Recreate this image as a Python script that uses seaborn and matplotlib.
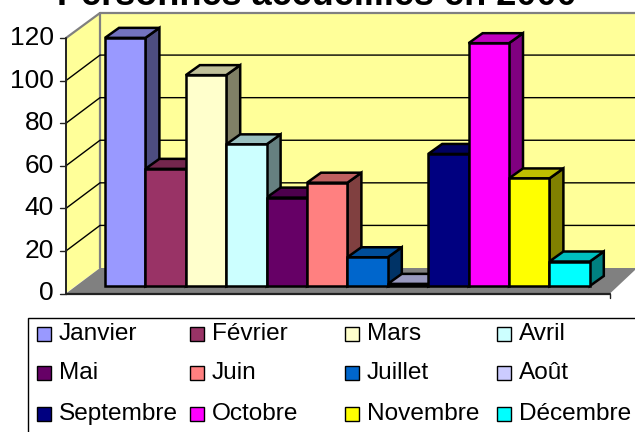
import matplotlib
matplotlib.use("Agg")
import matplotlib.pyplot as plt
from matplotlib.patches import Polygon, Rectangle
from matplotlib.colors import to_rgb
import numpy as np
import pandas as pd
import seaborn as sns

mois = ["Janvier", "Février", "Mars", "Avril", "Mai", "Juin", "Juillet", "Août",
        "Septembre", "Octobre", "Novembre", "Décembre"]
valeurs = [116.5, 55, 99, 66.5, 41.5, 48.5, 13.5, 1, 62, 114, 50.5, 11.5]
couleurs = ["#9999FF", "#993366", "#FFFFCC", "#CCFFFF", "#660066", "#FF8080",
            "#0066CC", "#CCCCFF", "#000080", "#FF00FF", "#FFFF00", "#00FFFF"]
graduations = [0, 20, 40, 60, 80, 100, 120]
titre = "Personnes accueillies en 2000"

W, H = 635, 432
sns.set_theme(style="white")
plt.rcParams["font.family"] = ["Liberation Sans", "DejaVu Sans"]

fig = plt.figure(figsize=(W / 100, H / 100), dpi=100, facecolor="white")

# echelle du plan des barres : 1 categorie = 40.4 px, 1 unite = 2.13 px
px_x, px_y = 40.4, 2.13
x0_px, y0_px = 105 + px_x / 2, 286
ax = fig.add_axes([0, 0, 1, 1])
ax.set_xlim(-x0_px / px_x, (W - x0_px) / px_x)
ax.set_ylim((y0_px - H) / px_y, y0_px / px_y)
ax.set_axis_off()


def px(x, y):
    return ((x - x0_px) / px_x, (y0_px - y) / px_y)


def poly(points, **kw):
    ax.add_patch(Polygon([px(*p) for p in points], closed=True, **kw))


jaune = "#FFFF99"
gris = "#808080"
# murs et sol
poly([(100, 13), (635, 13), (635, 268), (100, 268)], facecolor=jaune, edgecolor="none", zorder=0)
poly([(66, 38), (100, 13), (100, 268), (66, 293)], facecolor=jaune, edgecolor="none", zorder=0)
poly([(66, 293.5), (100, 268), (635, 268), (635, 270), (610, 293.5)], facecolor=gris, edgecolor="none", zorder=0.5)
ax.add_line(plt.Line2D(*zip(px(66, 38), px(100, 13), px(635, 13)), color="#808080", lw=1.6, zorder=1))
ax.add_line(plt.Line2D(*zip(px(100, 13), px(100, 268)), color="#808080", lw=1.6, zorder=1))
ax.add_line(plt.Line2D(*zip(px(66, 293.5), px(610, 293.5)), color="#222222", lw=1.6, zorder=1))
ax.add_line(plt.Line2D(*zip(px(610, 293.5), px(610, 298)), color="#222222", lw=1, zorder=1))
ech_mur = (293.5 - 38) / 120
for g in graduations[1:-1]:
    d = g * ech_mur
    ax.add_line(plt.Line2D(*zip(px(66, 293.5 - d), px(100, 268 - d), px(635, 268 - d)),
                           color="black", lw=1, zorder=1))
# axe vertical et graduations
ax.add_line(plt.Line2D(*zip(px(66, 38), px(66, 293.5)), color="#222222", lw=1.4, zorder=1))
for g in graduations:
    yp = 293.5 - g * ech_mur
    ax.add_line(plt.Line2D(*zip(px(60, yp), px(66, yp)), color="#222222", lw=1, zorder=1))
    ax.text(*px(54, yp), str(g), ha="right", va="center", fontsize=19, color="black")

# faces avant
df = pd.DataFrame({"mois": mois, "valeur": valeurs})
sns.barplot(data=df, x="mois", y="valeur", hue="mois", palette=couleurs, width=1,
            saturation=1, dodge=False, legend=False, edgecolor="black", linewidth=1.8,
            ax=ax, zorder=3)
ax.set_xlim(-x0_px / px_x, (W - x0_px) / px_x)
ax.set_ylim((y0_px - H) / px_y, y0_px / px_y)
ax.set_axis_off()

# faces de cote et dessus (profondeur 14 px, 10 px)
dx, dy = 14 / px_x, 10 / px_y
for i, (v, c) in enumerate(zip(valeurs, couleurs)):
    r = np.array(to_rgb(c))
    g, d = i - 0.5, i + 0.5
    ax.add_patch(Polygon([(d, 0), (d + dx, dy), (d + dx, v + dy), (d, v)], facecolor=r * 0.5,
                         edgecolor="black", lw=1.8, zorder=2))
    ax.add_patch(Polygon([(g, v), (g + dx, v + dy), (d + dx, v + dy), (d, v)], facecolor=r * 0.75,
                         edgecolor="black", lw=1.8, zorder=2))

# titre coupe par le haut de l'image
ax.text(*px(317, 5), titre, ha="center", va="baseline", fontsize=26, fontweight="bold", color="black")

# legende
ax.add_patch(Rectangle(px(28, 445), (650 - 28) / px_x, (445 - 318) / px_y, facecolor="white",
                       edgecolor="black", lw=1, zorder=4))
cols = [37, 190, 345, 497]
lignes = [334, 373, 414]
for i, (m, c) in enumerate(zip(mois, couleurs)):
    xp, yp = cols[i % 4], lignes[i // 4]
    ax.add_patch(Rectangle(px(xp, yp + 6.5), 14 / px_x, 14 / px_y, facecolor=c, edgecolor="black", lw=1, zorder=5))
    ax.text(*px(xp + 22, yp), m, ha="left", va="center", fontsize=17.6, color="black", zorder=5)

fig.savefig("out.png", dpi=100)
